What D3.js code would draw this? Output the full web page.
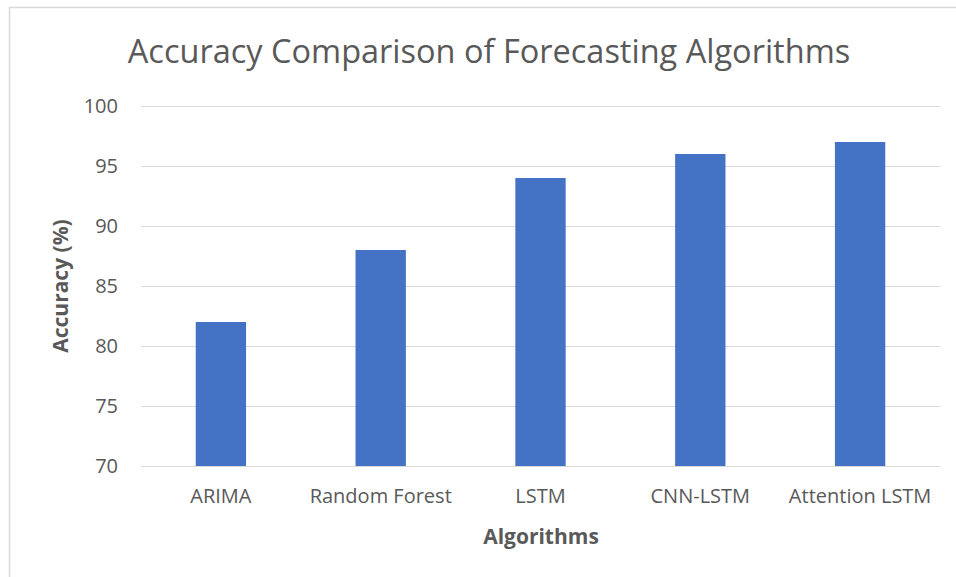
<!DOCTYPE html>
<html>
<head>
<meta charset="utf-8">
<script src="https://cdn.jsdelivr.net/npm/d3@7"></script>
<style>
	body { margin: 0; background: #fff; }
	svg { display: block; }
	svg text { font-family: "Open Sans", sans-serif; }
</style>
</head>
<body>
<svg width="956" height="577"></svg>
<script>
// Data
var algorithms = ["ARIMA", "Random Forest", "LSTM", "CNN-LSTM", "Attention LSTM"];
var accuracy = [82, 88, 94, 96, 97];
var yTicks = [70, 75, 80, 85, 90, 95, 100];

var svg = d3.select("svg");

// Sizing Stuff
var plotLeft = 141;
var plotRight = 940;
var plotTop = 106;
var plotBottom = 466;

// chart border (open on the right and bottom, like the crop)
svg.append("path")
	.attr("d", "M9.5,577 V7.5 H956")
	.attr("fill", "none")
	.attr("stroke", "#d9d9d9")
	.attr("stroke-width", 1.5);

var xscale = d3.scaleBand().domain(algorithms).range([plotLeft, plotRight]).paddingInner(0.685).paddingOuter(0.3425);
var yscale = d3.scaleLinear().domain([70, 100]).range([plotBottom, plotTop]);

// grid + y labels
var yaxis = d3.axisLeft(yscale)
	.tickValues(yTicks)
	.tickSize(-(plotRight - plotLeft))
	.tickPadding(23);

svg.append("g")
	.attr("transform", `translate(${plotLeft}, 0)`)
	.call(yaxis)
	.attr("font-family", null)
	.call((g) => g.select(".domain").remove())
	.call((g) => g.selectAll(".tick line").attr("stroke", "#d9d9d9").attr("stroke-width", 1.2))
	.call((g) => g.selectAll(".tick text").attr("fill", "#595959").style("font-size", "20px"));

// bars
var rows = algorithms.map((name, i) => ({ name: name, value: accuracy[i] }));

svg.append("g")
	.selectAll("rect")
	.data(rows)
	.join("rect")
	.attr("x", (d) => xscale(d.name))
	.attr("y", (d) => yscale(d.value))
	.attr("width", xscale.bandwidth())
	.attr("height", (d) => yscale(70) - yscale(d.value))
	.attr("fill", "#4472c4");

// x labels
var xaxis = d3.axisBottom(xscale).tickSize(0).tickPadding(23);

svg.append("g")
	.attr("transform", `translate(0, ${plotBottom})`)
	.call(xaxis)
	.attr("font-family", null)
	.call((g) => g.select(".domain").remove())
	.call((g) => g.selectAll(".tick text").attr("fill", "#595959").style("font-size", "20px"));

// titles
svg.append("text")
	.attr("x", 489)
	.attr("y", 63)
	.attr("text-anchor", "middle")
	.attr("fill", "#595959")
	.style("font-size", "32.5px")
	.text("Accuracy Comparison of Forecasting Algorithms");

svg.append("text")
	.attr("x", 541)
	.attr("y", 544)
	.attr("text-anchor", "middle")
	.attr("fill", "#595959")
	.style("font-size", "21px")
	.style("font-weight", "bold")
	.text("Algorithms");

svg.append("text")
	.attr("transform", `translate(68, ${(plotTop + plotBottom) / 2}) rotate(-90)`)
	.attr("text-anchor", "middle")
	.attr("fill", "#595959")
	.style("font-size", "21px")
	.style("font-weight", "bold")
	.text("Accuracy (%)");
</script>
</body>
</html>
